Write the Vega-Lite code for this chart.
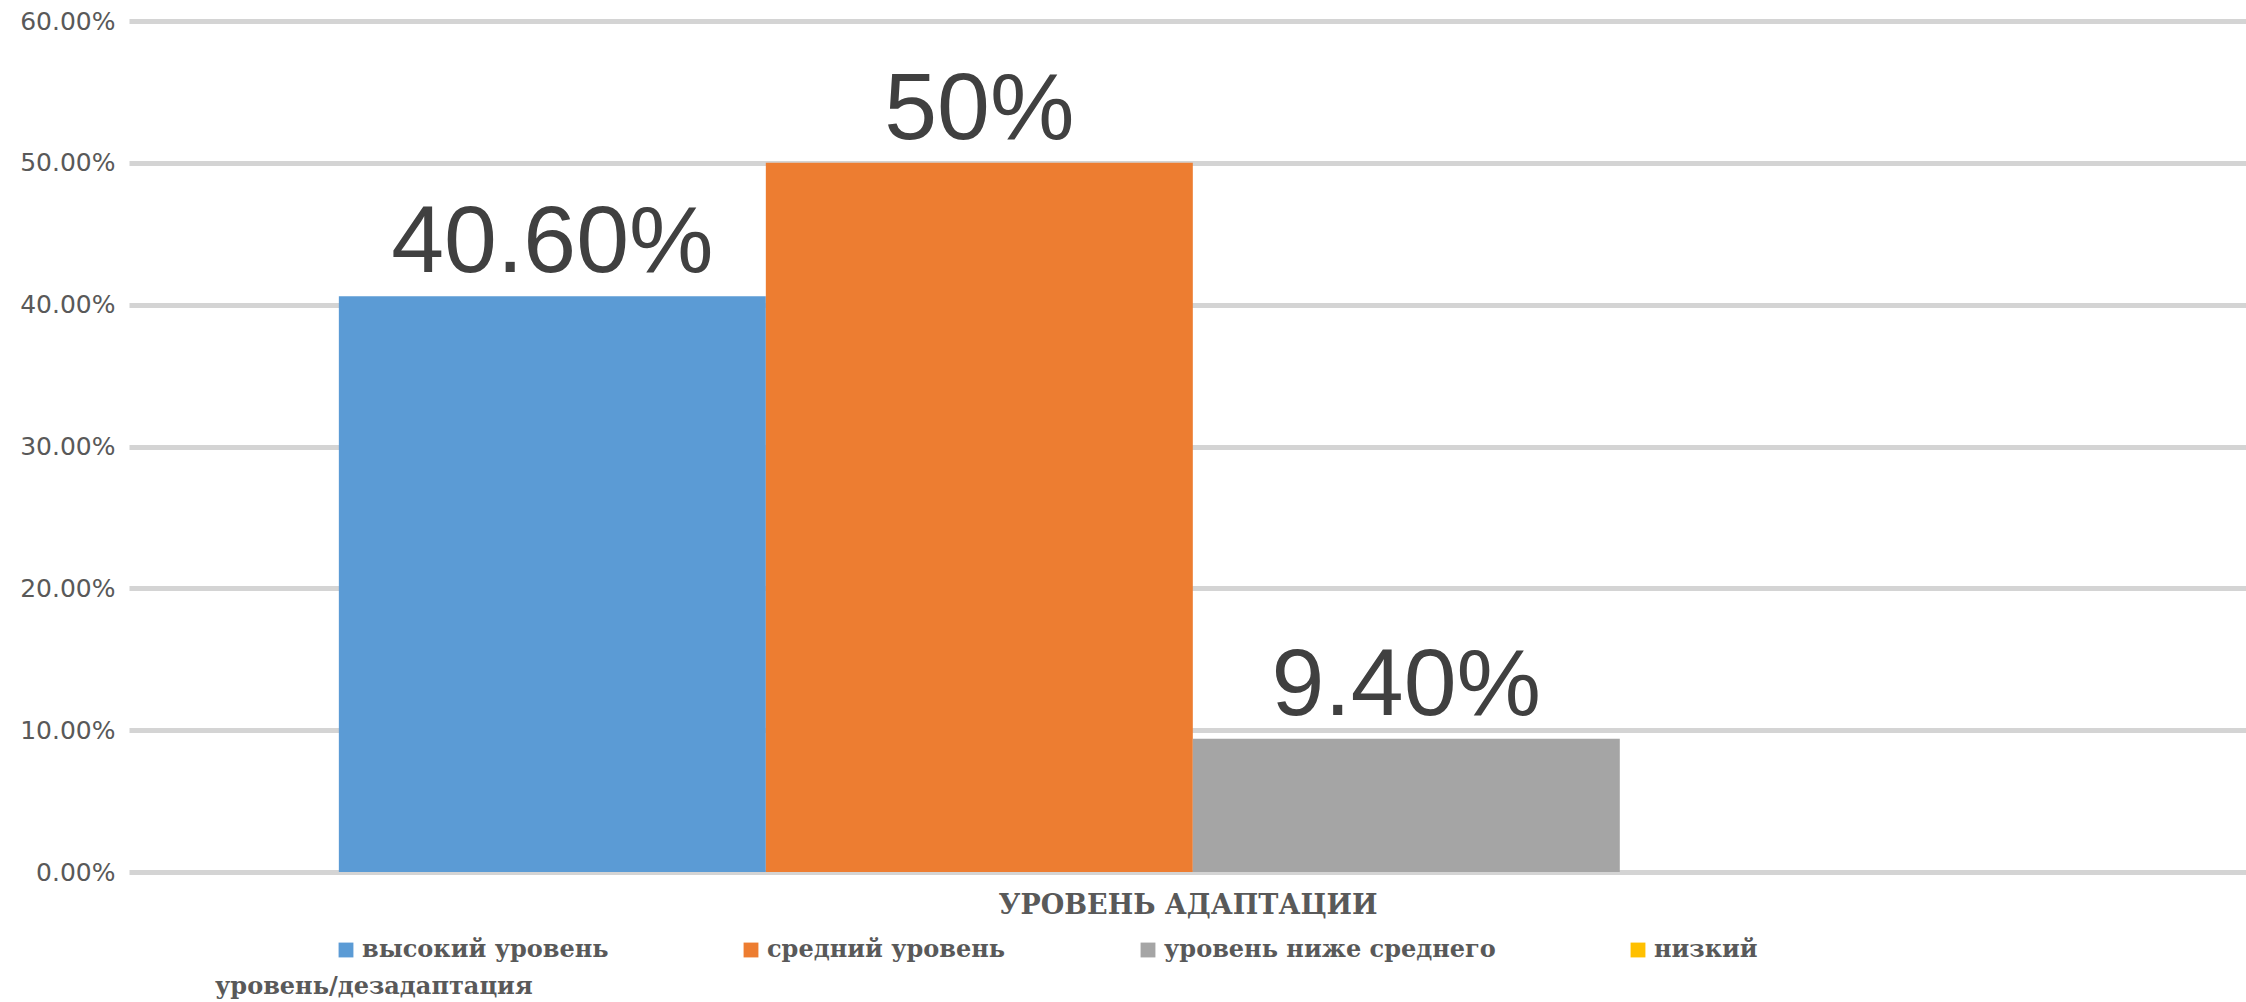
{
  "$schema": "https://vega.github.io/schema/vega-lite/v6.json",
  "autosize": "none",
  "width": 2117,
  "height": 851,
  "padding": {"left": 129, "top": 21, "right": 0, "bottom": 130},
  "background": "white",
  "config": {"view": {"stroke": null}},
  "title": {
    "text": "уровень/дезадаптация",
    "orient": "bottom",
    "anchor": "start",
    "frame": "group",
    "dx": 86,
    "offset": 13,
    "font": "DejaVu Serif",
    "fontWeight": "bold",
    "fontSize": 24,
    "color": "#595959"
  },
  "data": {
    "values": [
      {"series": "высокий уровень", "value": 0.406, "label": "40.60%"},
      {"series": "средний уровень", "value": 0.5, "label": "50%"},
      {"series": "уровень ниже среднего", "value": 0.094, "label": "9.40%"},
      {"series": "низкий уровень/дезадаптация", "value": 0, "label": ""}
    ]
  },
  "encoding": {
    "x": {
      "field": "series",
      "type": "nominal",
      "sort": null,
      "scale": {"paddingInner": 0, "paddingOuter": 0.479, "align": 0.513},
      "axis": {
        "labels": false,
        "ticks": false,
        "domain": false,
        "title": "УРОВЕНЬ АДАПТАЦИИ",
        "titleFont": "DejaVu Serif",
        "titleFontWeight": "bold",
        "titleFontSize": 27,
        "titleColor": "#595959",
        "titlePadding": 20
      }
    },
    "y": {
      "field": "value",
      "type": "quantitative",
      "scale": {"domain": [0, 0.6]},
      "axis": {
        "values": [0, 0.1, 0.2, 0.3, 0.4, 0.5, 0.6],
        "format": ".2%",
        "title": null,
        "domain": false,
        "ticks": false,
        "grid": true,
        "gridColor": "#d4d4d4",
        "gridWidth": 5,
        "labelFont": "DejaVu Sans",
        "labelFontSize": 25,
        "labelColor": "#595959",
        "labelPadding": 14
      }
    }
  },
  "layer": [
    {
      "mark": {"type": "bar"},
      "encoding": {
        "color": {
          "field": "series",
          "type": "nominal",
          "sort": null,
          "scale": {
            "domain": ["высокий уровень", "средний уровень", "уровень ниже среднего", "низкий уровень/дезадаптация"],
            "range": ["#5b9bd5", "#ed7d31", "#a5a5a5", "#ffc000"]
          },
          "legend": {
            "orient": "none",
            "legendX": 205,
            "legendY": 917,
            "direction": "horizontal",
            "title": null,
            "symbolType": "square",
            "symbolSize": 220,
            "symbolStrokeWidth": 0,
            "labelFont": "DejaVu Serif",
            "labelFontWeight": "bold",
            "labelFontSize": 24,
            "labelColor": "#595959",
            "labelOffset": 4,
            "labelLimit": 1000,
            "columnPadding": 130,
            "labelExpr": "datum.label == 'низкий уровень/дезадаптация' ? 'низкий' : datum.label"
          }
        }
      }
    },
    {
      "mark": {
        "type": "text",
        "baseline": "alphabetic",
        "dy": -24,
        "font": "Liberation Sans",
        "fontSize": 95,
        "color": "#404040"
      },
      "encoding": {"text": {"field": "label"}}
    }
  ]
}
